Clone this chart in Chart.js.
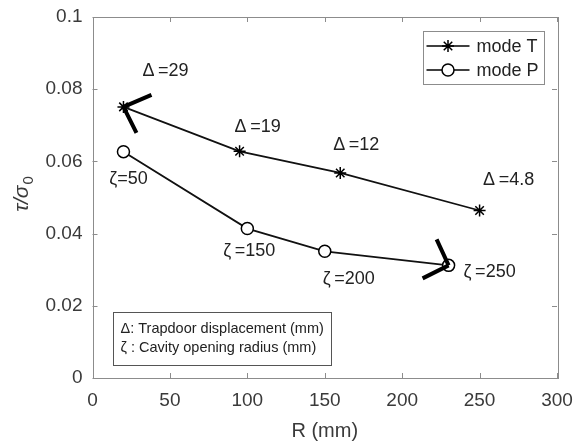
<!DOCTYPE html>
<html>
<head>
<meta charset="utf-8">
<script src="https://cdn.jsdelivr.net/npm/chart.js@4.4.1/dist/chart.umd.min.js"></script>
<style>
  html, body { margin: 0; padding: 0; background: #fff; }
  #wrap { width: 579px; height: 443px; }
</style>
</head>
<body>
<div id="wrap"><canvas id="tauChart" width="579" height="443"></canvas></div>
<script>
// data
var radiusT = [20, 95, 160, 250];
var tauT = [0.0751, 0.0628, 0.0568, 0.0464];
var labelsT = ['\u0394\u2009=29', '\u0394\u2009=19', '\u0394\u2009=12', '\u0394\u2009=4.8'];

var radiusP = [20, 100, 150, 230];
var tauP = [0.0627, 0.0414, 0.0351, 0.0312];
var labelsP = ['\u03b6=50', '\u03b6\u2009=150', '\u03b6\u2009=200', '\u03b6\u2009=250'];

var xTicks = [0, 50, 100, 150, 200, 250, 300];
var yTicks = [0, 0.02, 0.04, 0.06, 0.08, 0.1];

var noteLines = ['\u0394: Trapdoor displacement (mm)', '\u03b6 : Cavity opening radius (mm)'];

// label offsets (px) from their point, and arrowhead legs
var offsetsT = [[42, -36], [18, -24], [16, -28], [29, -30]];
var offsetsP = [[5, 27], [2, 22], [24, 28], [41, 7]];
var arrowMarks = [
    { ds: 0, idx: 0, legs: [[28, -12], [13, 26]] },
    { ds: 1, idx: 3, legs: [[-12, -26], [-26, 13]] }
];

var FONT = '"Liberation Sans", Arial, sans-serif';
var axisGrey = '#8c8c8c';
var textGrey = '#3a3a3a';

function toPoints(xs, ys) {
    return xs.map(function(x, i) { return { x: x, y: ys[i] }; });
}

var extras = {
    id: 'extras',
    beforeDatasetsDraw: function(chart) {
        var c = chart.ctx, a = chart.chartArea;
        var sx = chart.scales.x, sy = chart.scales.y;
        c.save();
        c.strokeStyle = axisGrey;
        c.lineWidth = 1;
        c.strokeRect(Math.round(a.left) + 0.5, Math.round(a.top) + 0.5,
            Math.round(a.right - a.left), Math.round(a.bottom - a.top));
        c.beginPath();
        xTicks.forEach(function(v) {
            var px = Math.round(sx.getPixelForValue(v)) + 0.5;
            c.moveTo(px, a.bottom); c.lineTo(px, a.bottom - 5);
            c.moveTo(px, a.top); c.lineTo(px, a.top + 5);
        });
        yTicks.forEach(function(v) {
            var py = Math.round(sy.getPixelForValue(v)) + 0.5;
            c.moveTo(a.left, py); c.lineTo(a.left + 5, py);
            c.moveTo(a.right, py); c.lineTo(a.right - 5, py);
        });
        c.stroke();
        c.restore();
    },
    afterDatasetsDraw: function(chart) {
        var c = chart.ctx, a = chart.chartArea;
        var sx = chart.scales.x, sy = chart.scales.y;
        c.save();

        // point labels
        c.fillStyle = '#222';
        c.font = '18px ' + FONT;
        c.textAlign = 'center';
        c.textBaseline = 'middle';
        labelsT.forEach(function(t, i) {
            c.fillText(t, sx.getPixelForValue(radiusT[i]) + offsetsT[i][0],
                sy.getPixelForValue(tauT[i]) + offsetsT[i][1]);
        });
        labelsP.forEach(function(t, i) {
            c.fillText(t, sx.getPixelForValue(radiusP[i]) + offsetsP[i][0],
                sy.getPixelForValue(tauP[i]) + offsetsP[i][1]);
        });

        // thick arrowheads
        c.strokeStyle = '#000';
        c.lineWidth = 4;
        arrowMarks.forEach(function(m) {
            var xs = m.ds === 0 ? radiusT : radiusP;
            var ys = m.ds === 0 ? tauT : tauP;
            var px = sx.getPixelForValue(xs[m.idx]), py = sy.getPixelForValue(ys[m.idx]);
            c.beginPath();
            m.legs.forEach(function(l) {
                c.moveTo(px, py);
                c.lineTo(px + l[0], py + l[1]);
            });
            c.stroke();
        });

        // legend
        var lx = a.right - 134.5, ly = a.top + 14;
        c.fillStyle = '#fff';
        c.fillRect(lx, ly, 121.5, 53.5);
        c.strokeStyle = axisGrey;
        c.lineWidth = 1;
        c.strokeRect(Math.round(lx) + 0.5, Math.round(ly) + 0.5, 121, 53);
        chart.data.datasets.forEach(function(ds, i) {
            var yy = ly + 15 + i * 24;
            c.strokeStyle = '#000';
            c.lineWidth = 1.5;
            c.beginPath();
            c.moveTo(lx + 4, yy); c.lineTo(lx + 47, yy);
            c.stroke();
            c.fillStyle = ds.pointBackgroundColor;
            c.strokeStyle = ds.pointBorderColor;
            c.lineWidth = 1.5;
            Chart.helpers.drawPoint(c, {
                pointStyle: ds.pointStyle, radius: 6, borderWidth: 1.5, rotation: 0
            }, lx + 25.5, yy);
            c.fillStyle = '#222';
            c.font = '18px ' + FONT;
            c.textAlign = 'left';
            c.textBaseline = 'middle';
            c.fillText(ds.label, lx + 54, yy + 1);
        });

        // note box
        var bx = a.left + 20, by = a.bottom - 66;
        c.fillStyle = '#fff';
        c.fillRect(bx, by, 218, 53);
        c.strokeStyle = '#555';
        c.lineWidth = 1;
        c.strokeRect(Math.round(bx) + 0.5, Math.round(by) + 0.5, 218, 53);
        c.fillStyle = '#222';
        c.font = '14.5px ' + FONT;
        c.textAlign = 'left';
        c.textBaseline = 'middle';
        noteLines.forEach(function(t, i) {
            c.fillText(t, bx + 8, by + 17 + i * 19);
        });

        // y title  tau / sigma_0
        c.translate(22, (a.top + a.bottom) / 2 - 3);
        c.rotate(-Math.PI / 2);
        c.fillStyle = textGrey;
        c.font = 'italic 21px ' + FONT;
        var main = '\u03c4/\u03c3';
        var w1 = c.measureText(main).width;
        c.font = '15px ' + FONT;
        var w2 = c.measureText('0').width;
        var start = -(w1 + w2) / 2;
        c.font = 'italic 21px ' + FONT;
        c.textAlign = 'left';
        c.textBaseline = 'middle';
        c.fillText(main, start, 0);
        c.font = '15px ' + FONT;
        c.fillText('0', start + w1 + 1, 7);
        c.restore();
    }
};

var ctx = document.getElementById('tauChart').getContext('2d');
var chart = new Chart(ctx, {
    type: 'scatter',
    data: {
        datasets: [{
            label: 'mode T',
            data: toPoints(radiusT, tauT),
            showLine: true,
            borderColor: '#111',
            borderWidth: 1.8,
            pointStyle: 'star',
            pointRadius: 6,
            pointBorderWidth: 1.5,
            pointBorderColor: '#000',
            pointBackgroundColor: '#000'
        }, {
            label: 'mode P',
            data: toPoints(radiusP, tauP),
            showLine: true,
            borderColor: '#111',
            borderWidth: 1.8,
            pointStyle: 'circle',
            pointRadius: 6,
            pointBorderWidth: 1.5,
            pointBorderColor: '#000',
            pointBackgroundColor: '#fff'
        }]
    },
    options: {
        responsive: false,
        animation: false,
        devicePixelRatio: 1,
        layout: { padding: { left: 0, right: 22, top: 17, bottom: 0 } },
        plugins: {
            legend: { display: false },
            tooltip: { enabled: false }
        },
        scales: {
            x: {
                type: 'linear',
                min: 0,
                max: 300,
                afterFit: function(s) { s.height = 65; },
                afterBuildTicks: function(s) { s.ticks = xTicks.map(function(v) { return { value: v }; }); },
                grid: { display: false },
                border: { display: false },
                ticks: { color: textGrey, font: { size: 19, family: FONT }, padding: 3, maxRotation: 0 },
                title: { display: true, text: 'R (mm)', color: textGrey, font: { size: 20, family: FONT }, padding: { top: 0, bottom: 0 } }
            },
            y: {
                type: 'linear',
                min: 0,
                max: 0.1,
                afterFit: function(s) { s.width = 92.5; },
                afterBuildTicks: function(s) { s.ticks = yTicks.map(function(v) { return { value: v }; }); },
                grid: { display: false },
                border: { display: false },
                ticks: {
                    color: textGrey,
                    font: { size: 19, family: FONT },
                    padding: 2,
                    callback: function(v) { return v === 0 ? '0' : String(+v.toFixed(2)); }
                }
            }
        }
    },
    plugins: [extras]
});
</script>
</body>
</html>
